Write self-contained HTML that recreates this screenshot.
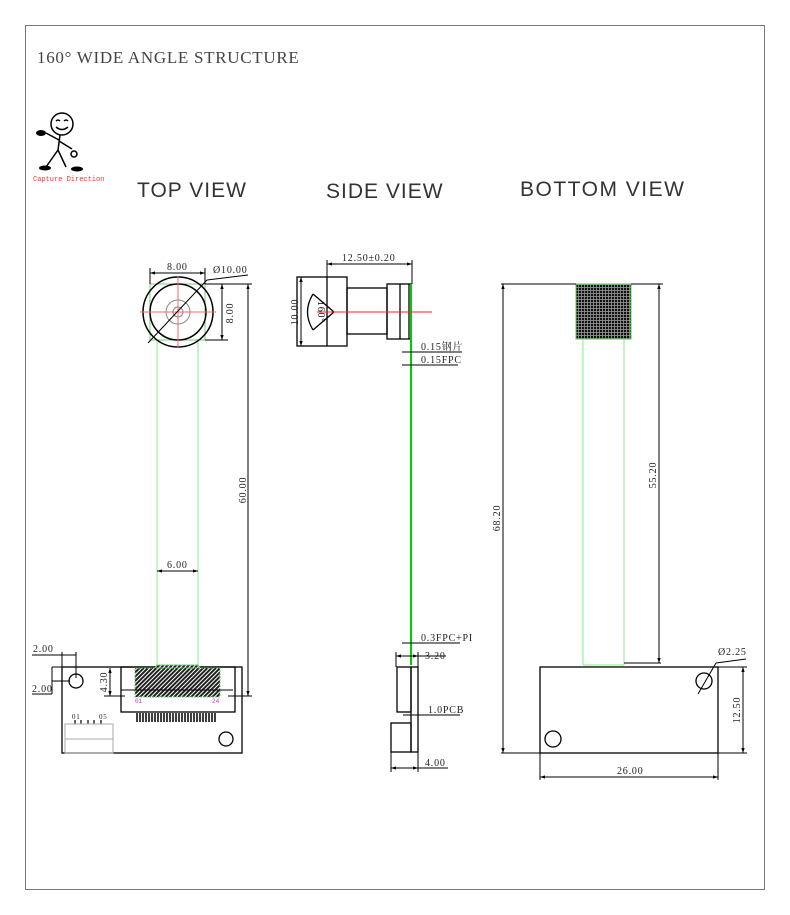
<!DOCTYPE html>
<html><head><meta charset="utf-8"><style>
html,body{margin:0;padding:0;background:#fff;}
svg{display:block;}
.s{font-family:"Liberation Serif","Noto Serif CJK SC",serif;font-size:10px;fill:#222;letter-spacing:0.8px;}
.h{font-family:"Liberation Sans",sans-serif;font-size:21px;fill:#333;letter-spacing:1px;}
</style></head><body>
<svg width="790" height="915" viewBox="0 0 790 915" xmlns="http://www.w3.org/2000/svg">
<defs>
<pattern id="hat" width="3" height="3" patternUnits="userSpaceOnUse" patternTransform="rotate(45)"><rect width="3" height="3" fill="#fff"/><rect width="2" height="3" fill="#222"/></pattern>
<pattern id="grid" width="3" height="3" patternUnits="userSpaceOnUse"><rect width="3" height="3" fill="#999"/><rect width="2.2" height="2.2" fill="#111"/></pattern>
<marker id="a" viewBox="0 0 6 6" refX="6" refY="3" markerWidth="5" markerHeight="5" orient="auto-start-reverse"><path d="M0,1 L6,3 L0,5z" fill="#000"/></marker>
</defs>
<rect x="25.5" y="25.5" width="739" height="864" fill="none" stroke="#777" stroke-width="1"/>
<text x="37" y="63" style="font-family:'Liberation Serif',serif;font-size:17px;fill:#444;letter-spacing:0.7px">160° WIDE ANGLE STRUCTURE</text>

<!-- stick figure -->
<g stroke="#000" stroke-width="1.5" fill="none">
<circle cx="62" cy="124" r="11"/>
<path d="M56,121 q2,-2 4,0 M64,121 q2,-2 4,0 M56,127 q6,5 12,0"/>
<path d="M60,135 L58,150 L46,167 M58,150 L66,167 M59,140 L46,133 M59,141 L72,149"/>
<circle cx="74" cy="154" r="3"/>
</g>
<ellipse cx="41" cy="133" rx="5" ry="3" fill="#000"/>
<ellipse cx="45" cy="168" rx="6" ry="2.5" fill="#000"/>
<ellipse cx="77" cy="169" rx="6" ry="2.5" fill="#000"/>
<text x="33" y="181" style="font-family:'Liberation Mono',monospace;font-size:7px;fill:#f33">Capture Direction</text>

<text class="h" x="137" y="197">TOP VIEW</text>
<text class="h" x="326" y="198">SIDE VIEW</text>
<text class="h" x="520" y="196" style="letter-spacing:1.5px">BOTTOM  VIEW</text>

<!-- TOP VIEW -->
<g fill="none" stroke-width="1">
<rect x="150" y="284" width="55" height="56" stroke="#7c7"/>
<line x1="157" y1="340" x2="157" y2="665" stroke="#8e8"/>
<line x1="198" y1="340" x2="198" y2="665" stroke="#8e8"/>
<circle cx="178" cy="312" r="35" stroke="#000" stroke-width="1.5"/>
<circle cx="178" cy="312" r="28" stroke="#000" stroke-width="1.5"/>
<circle cx="178" cy="312" r="12" stroke="#888"/>
<circle cx="178" cy="312" r="5" stroke="#888"/>
<line x1="140" y1="312" x2="216" y2="312" stroke="#f66"/>
<line x1="178" y1="276" x2="178" y2="348" stroke="#f66"/>
<line x1="148" y1="343" x2="207" y2="280" stroke="#000"/>
<line x1="207" y1="280" x2="248" y2="275" stroke="#000"/>
<g stroke="#000">
<line x1="150" y1="284" x2="150" y2="268"/><line x1="205" y1="284" x2="205" y2="268"/>
<line x1="150" y1="273" x2="205" y2="273" marker-start="url(#a)" marker-end="url(#a)"/>
<line x1="205" y1="284" x2="252" y2="284"/><line x1="205" y1="340" x2="228" y2="340"/>
<line x1="222" y1="284" x2="222" y2="340" marker-start="url(#a)" marker-end="url(#a)"/>
<line x1="248" y1="284" x2="248" y2="696" marker-start="url(#a)" marker-end="url(#a)"/>
<line x1="228" y1="696" x2="252" y2="696"/>
<line x1="157" y1="571" x2="198" y2="571" marker-start="url(#a)" marker-end="url(#a)"/>
</g>
</g>
<text class="s" x="167" y="270">8.00</text>
<text class="s" x="213" y="273">Ø10.00</text>
<text class="s" transform="translate(233,313) rotate(-90)" text-anchor="middle">8.00</text>
<text class="s" transform="translate(246,490) rotate(-90)" text-anchor="middle">60.00</text>
<text class="s" x="167" y="568">6.00</text>

<g fill="none" stroke="#000" stroke-width="1.3">
<rect x="62" y="667" width="180" height="86"/>
<rect x="121" y="667" width="114" height="45"/>
<circle cx="76" cy="681" r="7"/>
<circle cx="226" cy="739" r="7"/>
</g>
<path d="M157,665 L198,665 L200,668 L155,668z" fill="url(#hat)" stroke="#7c7"/>
<rect x="135" y="668" width="85" height="29" fill="url(#hat)" stroke="#7c7" stroke-dasharray="2,1"/>
<line x1="121" y1="690" x2="233" y2="690" stroke="#000"/>
<line x1="104" y1="696" x2="125" y2="696" stroke="#000"/>
<line x1="228" y1="696" x2="235" y2="696" stroke="#000"/>
<g stroke="#111" stroke-width="1.6">
<path d="M137,713v9M140,713v9M143,713v9M146,713v9M149,713v9M152,713v9M155,713v9M158,713v9M161,713v9M164,713v9M167,713v9M170,713v9M173,713v9M176,713v9M179,713v9M182,713v9M185,713v9M188,713v9M191,713v9M194,713v9M197,713v9M200,713v9M203,713v9M206,713v9M209,713v9M212,713v9M215,713v9"/>
</g>
<text x="135" y="703" style="font-family:'Liberation Mono',monospace;font-size:6px;fill:#c3c">01</text>
<text x="212" y="703" style="font-family:'Liberation Mono',monospace;font-size:6px;fill:#c3c">24</text>
<text class="s" x="72" y="719" style="font-size:7px">01</text>
<text class="s" x="99" y="719" style="font-size:7px">05</text>
<g stroke="#000" stroke-width="1.2"><path d="M75,720v4M81,720v4M88,720v4M94,720v4M101,720v4"/></g>
<rect x="65" y="724" width="48" height="29" fill="none" stroke="#aaa"/>
<line x1="65" y1="739" x2="113" y2="739" stroke="#aaa"/>
<g stroke="#000" fill="none">
<line x1="110" y1="668" x2="110" y2="696" marker-start="url(#a)" marker-end="url(#a)"/>
<line x1="32" y1="655" x2="76" y2="655"/><line x1="62" y1="652" x2="62" y2="668"/><line x1="76" y1="652" x2="76" y2="678"/>
<line x1="52" y1="667" x2="62" y2="667"/><line x1="52" y1="681" x2="70" y2="681"/>
<line x1="52" y1="667" x2="52" y2="694"/><line x1="32" y1="694" x2="52" y2="694"/>
</g>
<text class="s" x="33" y="652">2.00</text>
<text class="s" x="32" y="692">2.00</text>
<text class="s" transform="translate(107,682) rotate(-90)" text-anchor="middle">4.30</text>

<!-- SIDE VIEW -->
<g fill="none" stroke="#000" stroke-width="1.3">
<rect x="297" y="277" width="50" height="69"/>
<line x1="327" y1="277" x2="327" y2="346"/>
<rect x="347" y="288" width="40" height="46"/>
<rect x="387" y="284" width="24" height="55"/>
<line x1="400" y1="284" x2="400" y2="339"/><line x1="409" y1="284" x2="409" y2="339"/>
<path d="M313,294 L334,312 L313,330 M313,294 Q302,312 313,330"/>
</g>
<line x1="411" y1="284" x2="411" y2="665" stroke="#0c0" stroke-width="2"/>
<line x1="317" y1="312" x2="432" y2="312" stroke="#f22"/>
<text class="s" transform="translate(318,312) rotate(90)" text-anchor="middle">160°</text>
<g stroke="#000" fill="none">
<line x1="327" y1="264" x2="412" y2="264" marker-start="url(#a)" marker-end="url(#a)"/>
<line x1="412" y1="260" x2="412" y2="284"/><line x1="327" y1="260" x2="327" y2="277"/>
<line x1="301" y1="277" x2="301" y2="346" marker-start="url(#a)" marker-end="url(#a)"/>
<line x1="402" y1="352" x2="462" y2="352"/><line x1="402" y1="365" x2="458" y2="365"/>
<line x1="402" y1="643" x2="460" y2="643"/>
<line x1="396" y1="656" x2="418" y2="656" marker-start="url(#a)" marker-end="url(#a)"/><line x1="418" y1="656" x2="446" y2="656"/>
<line x1="396" y1="652" x2="396" y2="667"/><line x1="418" y1="652" x2="418" y2="667"/>
<line x1="403" y1="715" x2="460" y2="715"/>
<line x1="391" y1="752" x2="391" y2="772"/><line x1="418" y1="752" x2="418" y2="772"/>
<line x1="391" y1="768" x2="418" y2="768" marker-start="url(#a)" marker-end="url(#a)"/><line x1="418" y1="768" x2="448" y2="768"/>
</g>
<g fill="none" stroke="#000" stroke-width="1.3">
<rect x="397" y="667" width="14" height="45"/>
<rect x="411" y="667" width="7" height="85"/>
<rect x="391" y="723" width="20" height="29"/>
</g>
<text class="s" x="342" y="261">12.50±0.20</text>
<text class="s" transform="translate(298,312) rotate(-90)" text-anchor="middle">10.00</text>
<text class="s" x="421" y="350">0.15钢片</text>
<text class="s" x="421" y="363">0.15FPC</text>
<text class="s" x="421" y="641">0.3FPC+PI</text>
<text class="s" x="425" y="659">3.20</text>
<text class="s" x="428" y="713">1.0PCB</text>
<text class="s" x="425" y="766">4.00</text>

<!-- BOTTOM VIEW -->
<rect x="576" y="284" width="55" height="55" fill="url(#grid)" stroke="#5c5"/>
<line x1="583" y1="339" x2="583" y2="665" stroke="#8e8"/>
<line x1="624" y1="339" x2="624" y2="665" stroke="#8e8"/>
<line x1="583" y1="665" x2="624" y2="665" stroke="#8e8"/>
<g fill="none" stroke="#000" stroke-width="1.3">
<rect x="540" y="667" width="178" height="86"/>
<circle cx="553" cy="739" r="8"/>
<circle cx="704" cy="681" r="8"/>
</g>
<g stroke="#000" fill="none">
<line x1="698" y1="694" x2="716" y2="663"/><line x1="716" y1="663" x2="746" y2="659"/>
<line x1="501" y1="284" x2="576" y2="284"/><line x1="631" y1="284" x2="663" y2="284"/>
<line x1="503" y1="284" x2="503" y2="753" marker-start="url(#a)" marker-end="url(#a)"/>
<line x1="501" y1="753" x2="540" y2="753"/>
<line x1="659" y1="284" x2="659" y2="663" marker-start="url(#a)" marker-end="url(#a)"/>
<line x1="624" y1="663" x2="661" y2="663"/>
<line x1="718" y1="667" x2="747" y2="667"/><line x1="718" y1="753" x2="747" y2="753"/>
<line x1="743" y1="667" x2="743" y2="753" marker-start="url(#a)" marker-end="url(#a)"/>
<line x1="540" y1="753" x2="540" y2="780"/><line x1="718" y1="753" x2="718" y2="780"/>
<line x1="540" y1="777" x2="718" y2="777" marker-start="url(#a)" marker-end="url(#a)"/>
</g>
<text class="s" x="718" y="655">Ø2.25</text>
<text class="s" transform="translate(500,518) rotate(-90)" text-anchor="middle">68.20</text>
<text class="s" transform="translate(656,475) rotate(-90)" text-anchor="middle">55.20</text>
<text class="s" transform="translate(740,710) rotate(-90)" text-anchor="middle">12.50</text>
<text class="s" x="617" y="774">26.00</text>
</svg>
</body></html>
